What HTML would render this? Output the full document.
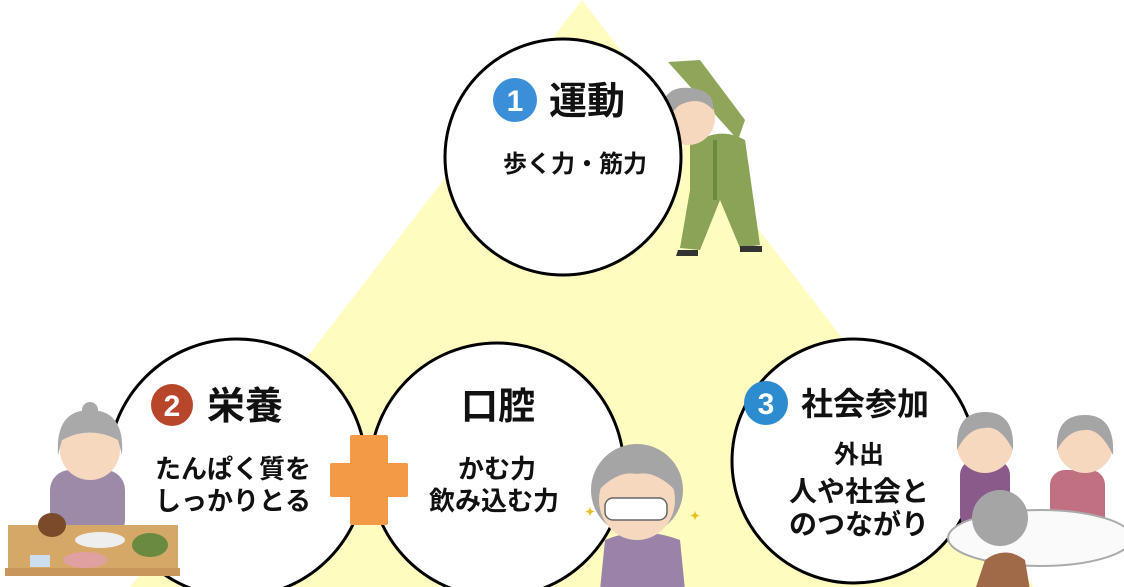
<!DOCTYPE html>
<html><head><meta charset="utf-8"><style>
html,body{margin:0;padding:0;background:#fff;}
body{width:1124px;height:587px;overflow:hidden;position:relative;font-family:"Liberation Sans","Noto Sans CJK JP",sans-serif;}
svg{position:absolute;left:0;top:0}
</style></head><body>
<svg width="1124" height="587" viewBox="0 0 1124 587" font-family="Liberation Sans, Noto Sans CJK JP, sans-serif" font-weight="bold">
<polygon points="582,0 1036,590 128,590" fill="#fffcc0"/>
<g>
<path d="M668,62 L700,60 L745,120 L738,140 Z" fill="#8fa65a"/>
<path d="M690,145 Q720,125 745,140 L760,245 L740,248 L720,200 L700,250 L680,248 L690,190 Z" fill="#8aa356"/>
<rect x="713" y="140" width="4" height="60" fill="#6b8a3c"/>
<circle cx="688" cy="118" r="27" fill="#f6d8bf"/>
<path d="M662,118 Q660,85 690,88 Q715,90 713,110 Q700,95 680,105 Q670,112 668,125 Z" fill="#a5a5a5"/>
<path d="M678,250 h20 v6 h-22z M740,246 h22 v6 h-22z" fill="#333"/>
</g>
<circle cx="563" cy="157" r="118" fill="#fff" stroke="#000" stroke-width="3"/>
<circle cx="237" cy="468" r="129" fill="#fff" stroke="#000" stroke-width="3"/>
<circle cx="497" cy="470" r="127" fill="#fff" stroke="#000" stroke-width="3"/>
<circle cx="854" cy="461" r="122" fill="#fff" stroke="#000" stroke-width="3"/>
<rect x="350" y="435" width="38" height="90" rx="2" fill="#f39a47"/>
<rect x="330" y="463" width="78" height="34" rx="2" fill="#f39a47"/>
<circle cx="515" cy="100" r="22" fill="#3a8fd8"/><text x="515" y="111" font-size="30" fill="#fff" text-anchor="middle">1</text>
<circle cx="172" cy="405" r="21" fill="#b8462a"/><text x="172" y="416" font-size="30" fill="#fff" text-anchor="middle">2</text>
<circle cx="766" cy="403" r="22" fill="#2d8bd0"/><text x="766" y="414" font-size="30" fill="#fff" text-anchor="middle">3</text>
<g fill="#111">
<text x="587" y="114" font-size="38" text-anchor="middle">運動</text>
<text x="575" y="172" font-size="24" text-anchor="middle">歩く力・筋力</text>
<text x="245" y="419" font-size="38" text-anchor="middle">栄養</text>
<text x="233" y="478" font-size="26" text-anchor="middle">たんぱく質を</text>
<text x="233" y="510" font-size="26" text-anchor="middle">しっかりとる</text>
<text x="498" y="419" font-size="37" text-anchor="middle">口腔</text>
<text x="497" y="478" font-size="26" text-anchor="middle">かむ力</text>
<text x="494" y="510" font-size="26" text-anchor="middle">飲み込む力</text>
<text x="865" y="415" font-size="32" text-anchor="middle">社会参加</text>
<text x="859" y="463" font-size="25" text-anchor="middle">外出</text>
<text x="859" y="501" font-size="28" text-anchor="middle">人や社会と</text>
<text x="859" y="534" font-size="28" text-anchor="middle">のつながり</text>
</g>
<g>
<rect x="50" y="470" width="75" height="70" rx="20" fill="#9c8aa8"/>
<circle cx="90" cy="450" r="30" fill="#f6d8bf"/>
<path d="M58,455 Q55,410 90,410 Q125,410 122,455 L118,440 Q90,425 62,440Z" fill="#a9a9a9"/>
<circle cx="90" cy="410" r="8" fill="#a9a9a9"/>
<rect x="8" y="525" width="170" height="50" fill="#d6a868"/>
<rect x="5" y="568" width="175" height="8" fill="#c8965a"/>
<ellipse cx="52" cy="525" rx="14" ry="12" fill="#7a4a2a"/>
<ellipse cx="100" cy="540" rx="25" ry="8" fill="#eee"/>
<ellipse cx="150" cy="545" rx="18" ry="12" fill="#6a8a40"/>
<ellipse cx="85" cy="560" rx="22" ry="8" fill="#e0a0a0"/>
<rect x="30" y="555" width="20" height="12" fill="#cde"/>
</g>
<g>
<path d="M605,540 Q640,525 680,540 L685,590 L600,590Z" fill="#9a82a8"/>
<circle cx="637" cy="490" r="46" fill="#a5a5a5"/>
<ellipse cx="637" cy="500" rx="38" ry="40" fill="#f6d8bf"/>
<path d="M599,490 Q600,448 637,448 Q675,448 675,490 Q655,470 637,474 Q618,470 599,490Z" fill="#a5a5a5"/>
<rect x="605" y="498" width="62" height="22" rx="8" fill="#fff" stroke="#666" stroke-width="1.5"/>
<text x="585" y="516" font-size="12" fill="#e8c020">✦</text>
<text x="690" y="520" font-size="12" fill="#e8c020">✦</text>
</g>
<g>
<rect x="960" y="460" width="50" height="70" rx="15" fill="#8a5a8a"/>
<circle cx="985" cy="445" r="28" fill="#f6d8bf"/>
<path d="M957,450 Q955,412 985,412 Q1015,412 1013,450 Q1000,425 985,428 Q968,428 957,450Z" fill="#a5a5a5"/>
<rect x="1050" y="470" width="55" height="70" rx="15" fill="#c07080"/>
<circle cx="1085" cy="445" r="28" fill="#f6d8bf"/>
<path d="M1057,450 Q1055,415 1085,415 Q1115,415 1113,455 Q1100,428 1085,430 Q1068,430 1057,450Z" fill="#a5a5a5"/>
<ellipse cx="1040" cy="538" rx="92" ry="28" fill="#fafafa" stroke="#aaa" stroke-width="2"/>
<circle cx="1000" cy="518" r="28" fill="#a5a5a5"/>
<path d="M985,560 Q1005,545 1025,560 L1030,590 L975,590Z" fill="#a06a48"/>
</g>
</svg>
</body></html>
